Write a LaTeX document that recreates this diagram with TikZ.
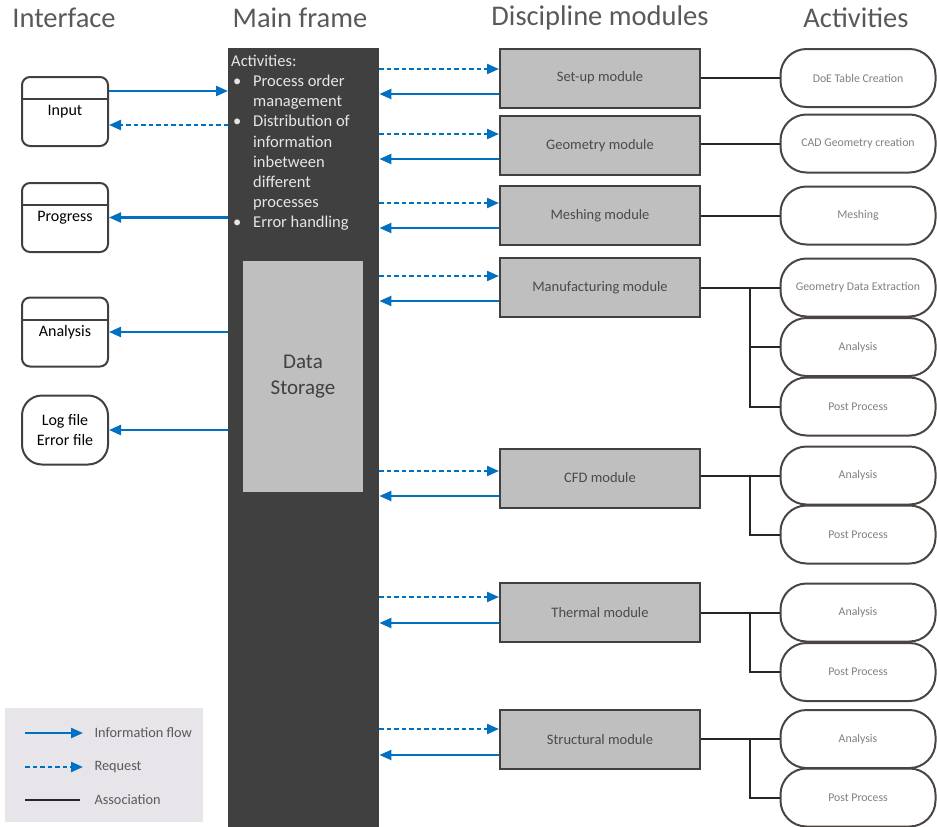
\documentclass[tikz,border=0pt]{standalone}
\usepackage{fontspec}
\setmainfont{Carlito}
\usetikzlibrary{arrows.meta,calc}
\definecolor{flowblue}{HTML}{0070C0}
\definecolor{framedark}{HTML}{404040}
\definecolor{boxline}{HTML}{404040}
\definecolor{modfill}{HTML}{BFBFBF}
\definecolor{modtext}{HTML}{4A4A4A}
\definecolor{actline}{HTML}{4A4442}
\definecolor{acttext}{HTML}{7F7F7F}
\definecolor{headtext}{HTML}{595959}
\definecolor{legendfill}{HTML}{E7E5E9}
\definecolor{assocline}{HTML}{262626}
\definecolor{frametext}{HTML}{E6E6E6}
\begin{document}
\begin{tikzpicture}[x=1pt,y=-1pt,
  flow/.style={draw=flowblue, line width=2.2pt, -{Triangle[length=12pt,width=10pt]}},
  request/.style={flow, dash pattern=on 4.5pt off 3pt},
  assoc/.style={draw=assocline, line width=2pt},
  ifbox/.style={draw=boxline, line width=2pt, rounded corners=8pt, minimum width=86pt,
    minimum height=69pt, inner sep=0pt, align=center, font=\fontsize{16}{20}\selectfont},
  modbox/.style={draw=boxline, fill=modfill, line width=2pt, minimum width=200pt,
    minimum height=59pt, inner sep=0pt, text=modtext, font=\fontsize{14.5}{17}\selectfont},
  actbox/.style={draw=actline, line width=2pt, rounded corners=26pt, minimum width=155pt,
    minimum height=58pt, inner sep=0pt, text=acttext, font=\fontsize{11.8}{14}\selectfont},
  heading/.style={text=headtext, font=\fontsize{28.5}{32}\selectfont},
  legendtext/.style={anchor=west, text=headtext, font=\fontsize{14.3}{17}\selectfont}]
\useasboundingbox (0,0) rectangle (937,827);

% column headings
\node[heading] (hif)  at (64,18)  {Interface};
\node[heading] (hmf)  at (300,18) {Main frame};
\node[heading] (hdm)  at (600,18) {Discipline modules};
\node[heading] (hact) at (856,18) {Activities};

% main frame with its activity list and data storage
\node[fill=framedark, minimum width=151pt, minimum height=780pt, inner sep=0pt,
  anchor=north west] (mf) at (228,48) {};
\node[anchor=north west, inner sep=0pt, text=frametext, font=\fontsize{16.5}{20.2}\selectfont]
  (mftext) at (231,52) {%
  \begin{tabular}{@{}p{22pt}@{}l@{}}
  \multicolumn{2}{@{}l@{}}{Activities:}\\
  \hspace{2pt}\textbullet & Process order\\
   & management\\
  \hspace{2pt}\textbullet & Distribution of\\
   & information\\
   & inbetween\\
   & different\\
   & processes\\
  \hspace{2pt}\textbullet & Error handling
  \end{tabular}};
\node[fill=modfill, minimum width=120pt, minimum height=231pt, inner sep=0pt,
  align=center, text=framedark, font=\fontsize{21}{25.5}\selectfont]
  (ds) at (303,376.5) {Data\\Storage};

% interface boxes
\node[ifbox] (inp)  at (65,111.5) {Input};
\node[ifbox] (prog) at (65,217.5) {Progress};
\node[ifbox] (ana)  at (65,332)   {Analysis};
\node[ifbox, rounded corners=20pt] (log) at (65,430) {Log file\\Error file};
\foreach \b in {inp,prog,ana}
  \draw[draw=boxline, line width=2pt] ($(\b.north west)+(0,23)$) -- ($(\b.north east)+(0,23)$);

% interface connectors
\coordinate (inpa) at ($(inp.north east)+(0,15)$);
\coordinate (inpb) at ($(inp.north east)+(0,49)$);
\draw[flow] (inpa) -- (inpa -| mf.west);
\draw[request] (inpb -| mf.west) -- (inpb);
\draw[flow] (prog.east -| mf.west) -- (prog.east);
\draw[flow] (ana.east -| mf.west) -- (ana.east);
\draw[flow] (log.east -| mf.west) -- (log.east);

% discipline modules: name / label / centre y / request y / flow y
\foreach \n/\t/\y/\r/\f in {
  setup/Set-up module/78/69/94,
  geom/Geometry module/145.5/134/159,
  mesh/Meshing module/215.5/203/228,
  mfg/Manufacturing module/287.5/276/301,
  cfd/CFD module/478/471/496,
  therm/Thermal module/612.5/597/623,
  struct/Structural module/739.5/729/755}{
  \node[modbox] (\n) at (600,\y) {\t};
  \coordinate (\n r) at (\n.west |- 0,\r);
  \coordinate (\n f) at (\n.west |- 0,\f);
  \draw[request] (\n r -| mf.east) -- (\n r);
  \draw[flow] (\n f) -- (\n f -| mf.east);
}

% activities
\node[actbox] (doe)  at (858,78)    {DoE Table Creation};
\node[actbox] (cad)  at (858,143.5) {CAD Geometry creation};
\node[actbox] (msh)  at (858,215.5) {Meshing};
\node[actbox] (gde)  at (858,287.5) {Geometry Data Extraction};
\node[actbox] (anaA) at (858,347)   {Analysis};
\node[actbox] (ppA)  at (858,406.5) {Post Process};
\node[actbox] (anaB) at (858,475.5) {Analysis};
\node[actbox] (ppB)  at (858,534.5) {Post Process};
\node[actbox] (anaC) at (858,612.5) {Analysis};
\node[actbox] (ppC)  at (858,672)   {Post Process};
\node[actbox] (anaD) at (858,739)   {Analysis};
\node[actbox] (ppD)  at (858,797.5) {Post Process};

% associations
\draw[assoc] (setup.east |- doe.west) -- (doe.west);
\draw[assoc] (geom.east |- cad.west) -- (cad.west);
\draw[assoc] (mesh.east |- msh.west) -- (msh.west);
\foreach \m/\a/\b/\c in {mfg/gde/anaA/ppA, cfd/anaB/ppB/ppB, therm/anaC/ppC/ppC, struct/anaD/ppD/ppD}{
  \coordinate (\m br) at ($(\m.east)!0.625!(\m.east -| \a.west)$);
  \draw[assoc] (\m.east |- \a.west) -- (\a.west);
  \draw[assoc] (\m br |- \a.west) |- (\b.west);
  \draw[assoc] (\m br |- \a.west) |- (\c.west);
}

% legend
\node[fill=legendfill, minimum width=198pt, minimum height=114pt, inner sep=0pt,
  anchor=north west] (legend) at (5,708) {};
\coordinate (lg1) at ($(legend.north west)+(20,25)$);
\coordinate (lg2) at ($(legend.north west)+(20,59)$);
\coordinate (lg3) at ($(legend.north west)+(20,92)$);
\draw[flow] (lg1) -- ++(58,0);
\draw[request] (lg2) -- ++(58,0);
\draw[assoc] (lg3) -- ++(55,0);
\node[legendtext] (lgt1) at ($(lg1)+(66,0)$) {Information flow};
\node[legendtext] (lgt2) at ($(lg2)+(66,0)$) {Request};
\node[legendtext] (lgt3) at ($(lg3)+(66,0)$) {Association};
\end{tikzpicture}
\end{document}
